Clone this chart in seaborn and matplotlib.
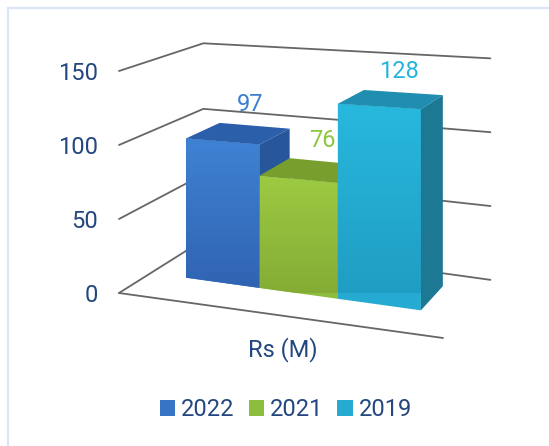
import numpy as np
import pandas as pd
import matplotlib
matplotlib.use('Agg')
import matplotlib.pyplot as plt
from matplotlib.patches import Polygon, Rectangle
from matplotlib.transforms import Affine2D, IdentityTransform, Transform
from matplotlib.lines import Line2D
from matplotlib.colors import to_rgb
import seaborn as sns

# ---- data ----
category = ['Rs (M)']
years = ['2022', '2021', '2019']
values = [97, 76, 128]
y_ticks = [0, 50, 100, 150]

# ---- style ----
front_colors = ['#3674c6', '#8dbd3c', '#25aad2']
front_top = ['#3f82d3', '#9dca42', '#28b8de']
front_bottom = ['#3064b2', '#83ab35', '#1f9bc0']
top_colors = ['#2c5fa9', '#789f2e', '#1f8eb0']
side_colors = ['#27569a', '#6a8f28', '#1c7893']
label_colors = ['#3b7fd0', '#8dc63f', '#22b5dc']
text_color = '#23477e'
grid_color = '#666666'
FS = 17

sns.set_theme(style='white')
plt.rcParams['font.family'] = ['Roboto', 'DejaVu Sans']

W, H = 549, 446
fig = plt.figure(figsize=(W / 100, H / 100), dpi=100)
fig.patch.set_facecolor('white')
AX_L, AX_R, AX_B, AX_T = 119, 443, 293, 71   # pixel box of the front plane (image coords)
ax = fig.add_axes([AX_L / W, (H - AX_B) / H, (AX_R - AX_L) / W, (AX_B - AX_T) / H])
ax.set_facecolor('none')

df = pd.DataFrame({'metric': category * len(years), 'year': years, 'value': values})
sns.barplot(data=df, x='metric', y='value', hue='year', hue_order=years,
            palette=front_colors, saturation=1, width=0.8, dodge=True,
            errorbar=None, linewidth=0, ax=ax, legend=True)

ax.set_xlim(-0.532, 0.523)
ax.set_ylim(0, 150)
ax.set_yticks(y_ticks)
ax.set_xlabel('')
ax.set_ylabel('')
for s in ax.spines.values():
    s.set_visible(False)
ax.tick_params(axis='y', length=0, pad=15, labelsize=FS, labelcolor=text_color)
ax.tick_params(axis='x', length=0, pad=32, labelsize=FS, labelcolor=text_color)


# ---- perspective helpers (display space) ----
class Homography(Transform):
    input_dims = 2
    output_dims = 2
    is_separable = False
    has_inverse = False

    def __init__(self, M):
        super().__init__()
        self.M = M

    def transform_non_affine(self, values):
        v = np.atleast_2d(np.asarray(values, float))
        h = np.column_stack([v, np.ones(len(v))]) @ self.M.T
        return h[:, :2] / h[:, 2:3]


def solve_homography(src, dst):
    A, b = [], []
    for (x, y), (u, v) in zip(src, dst):
        A.append([x, y, 1, 0, 0, 0, -u * x, -u * y]); b.append(u)
        A.append([0, 0, 0, x, y, 1, -v * x, -v * y]); b.append(v)
    m = np.linalg.solve(np.array(A, float), np.array(b, float))
    return np.append(m, 1).reshape(3, 3)


src = [(AX_L, H - AX_B), (AX_L, H - AX_T), (AX_R, H - AX_B), (AX_R, H - AX_T)]
dst = [(AX_L, H - AX_B), (AX_L, H - AX_T), (AX_R, H - 338), (AX_R, H - 88)]
homog = Homography(solve_homography(src, dst))

V = np.array([859.0, H + 172.0])   # depth vanishing point (display coords)
K = 0.114                          # shrink over full depth


def depth_tf(f):
    s = 1 - K * f
    return Affine2D().translate(-V[0], -V[1]).scale(s).translate(V[0], V[1])


def proj(x, y, f):
    p = ax.transData.transform((x, y))
    p = homog.transform_non_affine(p)[0]
    return depth_tf(f).transform(p)


F0, F1 = 0.38, 0.80
xl, xr = ax.get_xlim()

# walls / grid
for t in y_ticks:
    a, b, c = proj(xl, t, 0), proj(xl, t, 1), proj(xr, t, 1)
    ax.add_line(Line2D([a[0], b[0], c[0]], [a[1], b[1], c[1]], transform=IdentityTransform(),
                       color=grid_color, lw=1.3, zorder=1, clip_on=False))
a, b = proj(xl, 0, 0), proj(xr, 0, 0)
ax.add_line(Line2D([a[0], b[0]], [a[1], b[1]], transform=IdentityTransform(),
                   color=grid_color, lw=1.3, zorder=1, clip_on=False))

# bars (one container per hue level, in hue order)
bars = [c.patches[0] for c in ax.containers]
for i, p in enumerate(bars):
    x, w, h = p.get_x(), p.get_width(), p.get_height()
    p.set_transform(ax.transData + homog + depth_tf(F0))
    p.set_clip_on(False)
    p.set_zorder(10 + 3 * i)
    p.set_linewidth(0)
    # vertical shading of the front face, clipped to the face outline
    corners = np.array([proj(x, 0, F0), proj(x + w, 0, F0), proj(x + w, h, F0), proj(x, h, F0)])
    c0, c1 = np.array(to_rgb(front_top[i])), np.array(to_rgb(front_bottom[i]))
    tt = np.linspace(0, 1, 64)[:, None]
    grad = (c0 * (1 - tt) + c1 * tt)[:, None, :]
    im = ax.imshow(grad, extent=(corners[:, 0].min(), corners[:, 0].max(),
                                 corners[:, 1].min(), corners[:, 1].max()),
                   transform=IdentityTransform(), aspect='auto', origin='upper',
                   interpolation='bilinear', zorder=10.5 + 3 * i)
    clip_poly = Polygon(corners, closed=True, transform=IdentityTransform())
    im.set_clip_path(clip_poly)
    top = [proj(x, h, F0), proj(x + w, h, F0), proj(x + w, h, F1), proj(x, h, F1)]
    side = [proj(x + w, 0, F0), proj(x + w, h, F0), proj(x + w, h, F1), proj(x + w, 0, F1)]
    ax.add_patch(Polygon(top, closed=True, transform=IdentityTransform(), facecolor=top_colors[i],
                         edgecolor='none', zorder=11 + 3 * i, clip_on=False))
    ax.add_patch(Polygon(side, closed=True, transform=IdentityTransform(), facecolor=side_colors[i],
                         edgecolor='none', zorder=11 + 3 * i, clip_on=False))
    lp = proj(x + w / 2, h, F1)
    ax.text(lp[0] - 4, lp[1] + 10, f'{values[i]}', transform=IdentityTransform(), ha='center',
            va='bottom', fontsize=FS, color=label_colors[i], zorder=30)

ax.set_xlim(-0.532, 0.523)
ax.set_ylim(0, 150)

# legend
leg = ax.get_legend()
handles = leg.legend_handles
labels = [t.get_text() for t in leg.get_texts()]
leg.remove()
fig.legend(handles, labels, loc='center', bbox_to_anchor=(286 / W, 1 - 410 / H), ncol=3,
           frameon=False, fontsize=FS, labelcolor=text_color, handlelength=0.64,
           handleheight=0.64, handletextpad=0.25, columnspacing=0.6, borderaxespad=0)

# frame
fig.add_artist(Rectangle((7.5 / W, -0.1), 1.2, 1.1 - 8.5 / H, transform=fig.transFigure,
                         fill=False, edgecolor='#d9e6f6', lw=1.6))

fig.savefig('out.png', dpi=100)
